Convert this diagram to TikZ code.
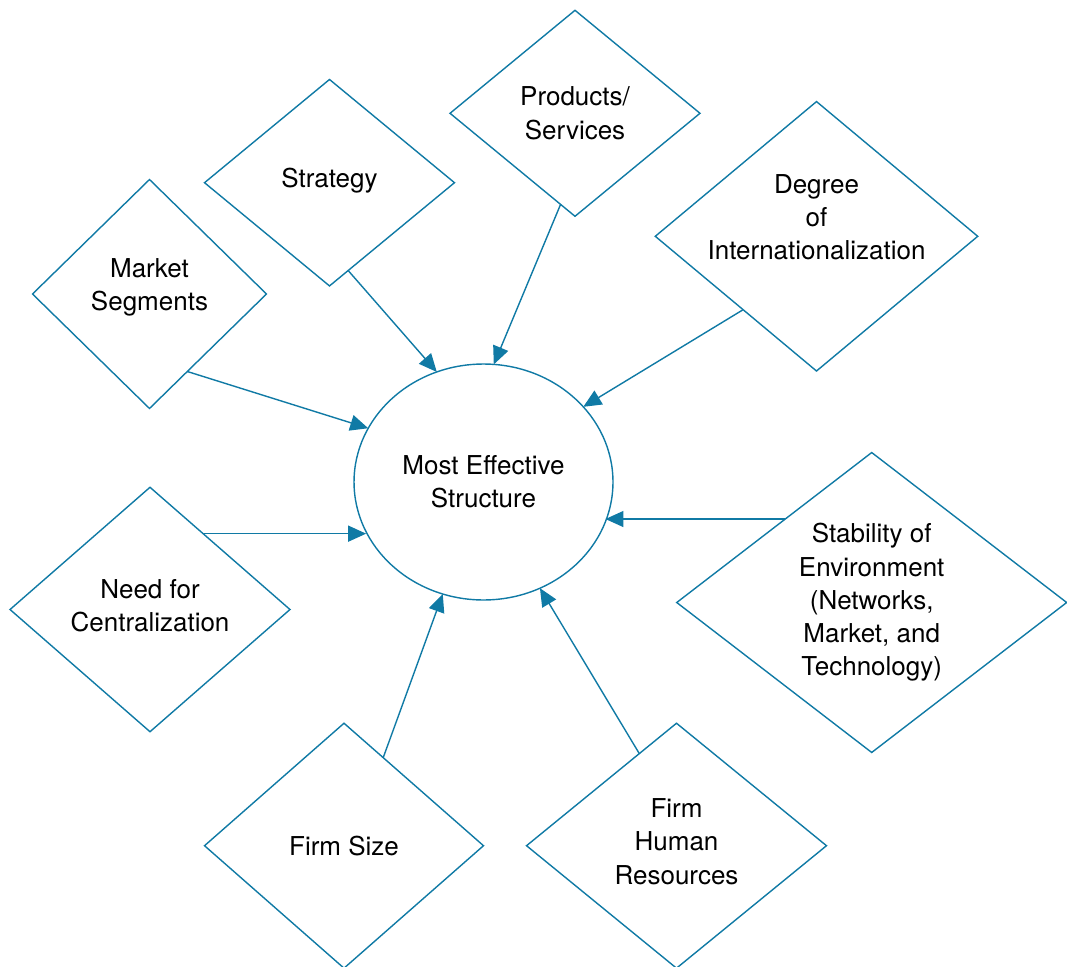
\documentclass[tikz,border=0pt]{standalone}
\usepackage{fontspec}
\setmainfont{TeX Gyre Heros}
\usetikzlibrary{shapes.geometric,arrows.meta}
\definecolor{linkblue}{RGB}{16,122,165}

\begin{document}
\begin{tikzpicture}[
    x=0.02cm, y=-0.02cm, % one unit = one pixel, y runs downwards
    every node/.style={text=black, align=center, font=\fontsize{14.8}{18.9}\selectfont},
    color=linkblue, % Set line color
    line width=0.8pt,
    factor/.style={diamond, draw=linkblue, inner sep=0pt, outer sep=0pt}, % Driver boxes
    link/.style={-{Triangle[length=0.36cm, width=0.32cm]}} % Connector style
]

    \useasboundingbox (0,0) rectangle (1067,966);

    % --- CENTRE ---
    \node[ellipse, draw=linkblue, outer sep=0pt, minimum width=5.18cm, minimum height=4.72cm]
        (mes) at (483.5,482) {Most Effective\\Structure};

    % --- DRIVERS (clockwise from the left) ---
    \node[factor, minimum width=4.68cm, minimum height=4.58cm,
        label={[yshift=0.14cm]center:{Market\\Segments}}] (market) at (149.5,294) {};
    \node[factor, minimum width=5.0cm, minimum height=4.13cm,
        label={[yshift=0.04cm]center:{Strategy}}] (strategy) at (329.5,182.7) {};
    \node[factor, minimum width=5.0cm, minimum height=4.12cm,
        label={center:{Products/\\Services}}] (products) at (575,113.3) {};
    \node[factor, minimum width=6.45cm, minimum height=5.39cm,
        label={[yshift=0.38cm]center:{Degree\\of\\Internationalization}}] (degree) at (816.5,236.3) {};
    \node[factor, minimum width=7.8cm, minimum height=6.0cm,
        label={center:{Stability of\\Environment\\(Networks,\\Market, and\\Technology)}}] (stability) at (871.7,602.5) {};
    \node[factor, minimum width=6.0cm, minimum height=4.9cm,
        label={[yshift=0.08cm]center:{Firm\\Human\\Resources}}] (human) at (676.5,845.7) {};
    \node[factor, minimum width=5.58cm, minimum height=4.9cm,
        label={center:{Firm Size}}] (size) at (344,845.7) {};
    \node[factor, minimum width=5.6cm, minimum height=4.89cm,
        label={[yshift=0.08cm]center:{Need for\\Centralization}}] (central) at (150,609.5) {};

    % --- CONNECTORS ---
    \draw[link] (market.296.8) -- (mes.155.6);
    \draw[link] (strategy.282.2) -- (mes.113);
    \draw[link] (products.261.2) -- (mes.85.7);
    \draw[link] (degree.225.5) -- (mes.37);
    \draw[link] (stability.136.8) -- (mes.342.8 |- stability.136.8);
    \draw[link] (human.112.9) -- (mes.298.3);
    \draw[link] (size.66.7) -- (mes.250);
    \draw[link] (central.55.3) -- (mes.203.75 |- central.55.3);

\end{tikzpicture}
\end{document}
